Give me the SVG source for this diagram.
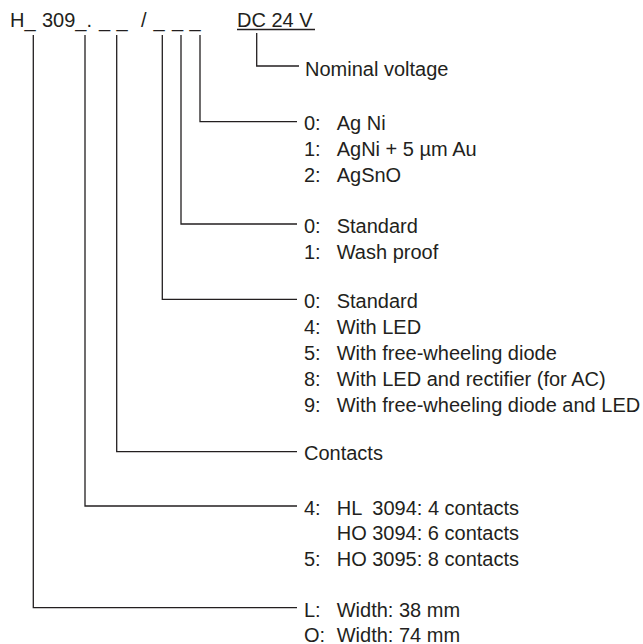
<svg xmlns="http://www.w3.org/2000/svg" width="643" height="644" viewBox="0 0 643 644">
<style>
text{font-family:"Liberation Sans",Arial,sans-serif;font-size:20px;fill:#231f20}
.c{fill:none;stroke:#231f20;stroke-width:1.3}
</style>
<rect width="643" height="644" fill="#fff"/>
<g id="code">
<text y="27"><tspan x="10">H_</tspan><tspan x="42">309_.</tspan><tspan x="99">_</tspan><tspan x="116.5">_</tspan><tspan x="141">/</tspan><tspan x="153.5">_</tspan><tspan x="172">_</tspan><tspan x="189.5">_</tspan></text>
</g>
<g id="voltage">
<text x="237" y="27">DC 24 V</text>
<line class="c" x1="237" y1="29.5" x2="315" y2="29.5"/>
</g>
<g id="connectors">
<polyline class="c" points="256.7,33 256.7,66 299,66"/>
<polyline class="c" points="200,35 200,121.7 297,121.7"/>
<polyline class="c" points="181,35 181,224 297,224"/>
<polyline class="c" points="162.3,35 162.3,299.3 297,299.3"/>
<polyline class="c" points="116.7,35 116.7,451.7 297,451.7"/>
<polyline class="c" points="85,35 85,506 297,506"/>
<polyline class="c" points="33.3,35 33.3,607.7 297,607.7"/>
</g>
<g id="nominal"><text x="305" y="75.5">Nominal voltage</text></g>
<g id="material">
<text y="130"><tspan x="304">0:</tspan><tspan x="336.7">Ag Ni</tspan></text>
<text y="156"><tspan x="304">1:</tspan><tspan x="336.7">AgNi + 5 µm Au</tspan></text>
<text y="182"><tspan x="304">2:</tspan><tspan x="336.7">AgSnO</tspan></text>
</g>
<g id="version">
<text y="232.5"><tspan x="304">0:</tspan><tspan x="336.7">Standard</tspan></text>
<text y="258.5"><tspan x="304">1:</tspan><tspan x="336.7">Wash proof</tspan></text>
</g>
<g id="module">
<text y="307.5"><tspan x="304">0:</tspan><tspan x="336.7">Standard</tspan></text>
<text y="333.5"><tspan x="304">4:</tspan><tspan x="336.7">With LED</tspan></text>
<text y="359.5"><tspan x="304">5:</tspan><tspan x="336.7">With free-wheeling diode</tspan></text>
<text y="385.5"><tspan x="304">8:</tspan><tspan x="336.7">With LED and rectifier (for AC)</tspan></text>
<text y="411.5"><tspan x="304">9:</tspan><tspan x="336.7">With free-wheeling diode and LED</tspan></text>
</g>
<g id="contacts"><text x="304" y="460">Contacts</text></g>
<g id="type">
<text y="514.5"><tspan x="304">4:</tspan><tspan x="336.7">HL</tspan><tspan x="372.3">3094: 4 contacts</tspan></text>
<text y="540"><tspan x="336.7">HO 3094: 6 contacts</tspan></text>
<text y="565.5"><tspan x="304">5:</tspan><tspan x="336.7">HO 3095: 8 contacts</tspan></text>
</g>
<g id="width">
<text y="616.5"><tspan x="304">L:</tspan><tspan x="336.7">Width: 38 mm</tspan></text>
<text y="641.5"><tspan x="304">O:</tspan><tspan x="336.7">Width: 74 mm</tspan></text>
</g>
</svg>
